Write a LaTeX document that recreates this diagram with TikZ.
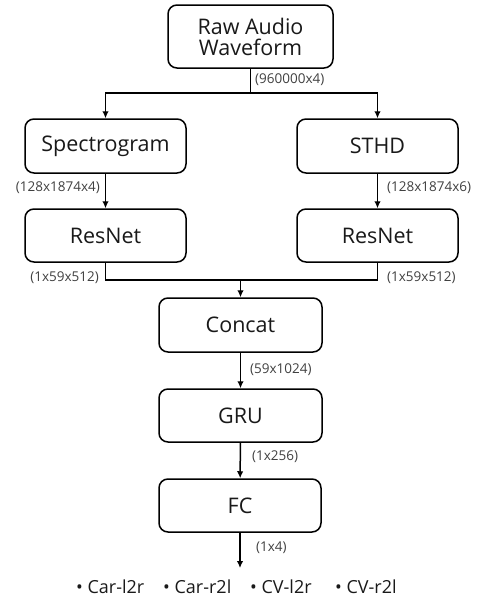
\documentclass[tikz,border=0pt]{standalone}
\usepackage{fontspec}
\setmainfont{Open Sans}
\usetikzlibrary{arrows.meta}
\tikzset{
  blk/.style={draw, line width=1.5pt, rounded corners=9pt, minimum width=161pt, minimum height=53pt, inner sep=0pt, font=\fontsize{21.5}{25}\selectfont, align=center, text=black!90},
  dim/.style={inner sep=0pt, font=\fontsize{13.5}{15}\selectfont, text=black!75},
  cls/.style={inner sep=0pt, anchor=west, font=\fontsize{18}{21}\selectfont, text=black!90},
  conn/.style={line width=1.5pt},
  arr/.style={line width=1.5pt, -{Latex[length=7pt,width=6.5pt]}}
}
\begin{document}
\begin{tikzpicture}[x=1pt,y=-1pt]
\useasboundingbox (0,0) rectangle (480,597);
\node[blk, minimum width=165pt, minimum height=63pt] (raw) at (250.5,36.5) {Raw Audio\\[-4pt]Waveform};
\node[blk, minimum height=54pt] (spec) at (105.5,146) {Spectrogram};
\node[blk, minimum height=54pt] (sthd) at (377.5,146) {STHD};
\node[blk] (res1) at (105.5,235.5) {ResNet};
\node[blk] (res2) at (377.5,235.5) {ResNet};
\node[blk, minimum width=163pt, minimum height=54pt] (concat) at (240.5,325) {Concat};
\node[blk, minimum width=163pt] (gru) at (240.5,415.5) {GRU};
\node[blk, minimum width=162pt] (fc) at (240,505.5) {FC};
\coordinate (split) at (250.5,93);
\coordinate (merge) at (240.5,280);
\coordinate (out) at (240,568);
\draw[conn] (raw.south) -- (split);
\draw[arr] (split) -| (spec.north);
\draw[arr] (split) -| (sthd.north);
\draw[arr] (spec) -- (res1);
\draw[arr] (sthd) -- (res2);
\draw[conn] (res1.south) |- (merge);
\draw[conn] (res2.south) |- (merge);
\draw[arr] (merge) -- (concat.north);
\draw[arr] (concat) -- (gru);
\draw[arr] (gru) -- (fc);
\draw[arr] (fc.south) -- (out);
\node[dim, anchor=west] (d0) at (255,80) {(960000x4)};
\node[dim, anchor=east] (d1) at (100,188) {(128x1874x4)};
\node[dim, anchor=west] (d2) at (387,188) {(128x1874x6)};
\node[dim, anchor=east] (d3) at (99,278) {(1x59x512)};
\node[dim, anchor=west] (d4) at (387,278) {(1x59x512)};
\node[dim, anchor=west] (d5) at (250,370) {(59x1024)};
\node[dim, anchor=west] (d6) at (252,457) {(1x256)};
\node[dim, anchor=west] (d7) at (256,548) {(1x4)};
\node[cls] (c1) at (76,587) {• Car-l2r};
\node[cls] (c2) at (163,587) {• Car-r2l};
\node[cls] (c3) at (250,587) {• CV-l2r};
\node[cls] (c4) at (335,587) {• CV-r2l};
\end{tikzpicture}
\end{document}
